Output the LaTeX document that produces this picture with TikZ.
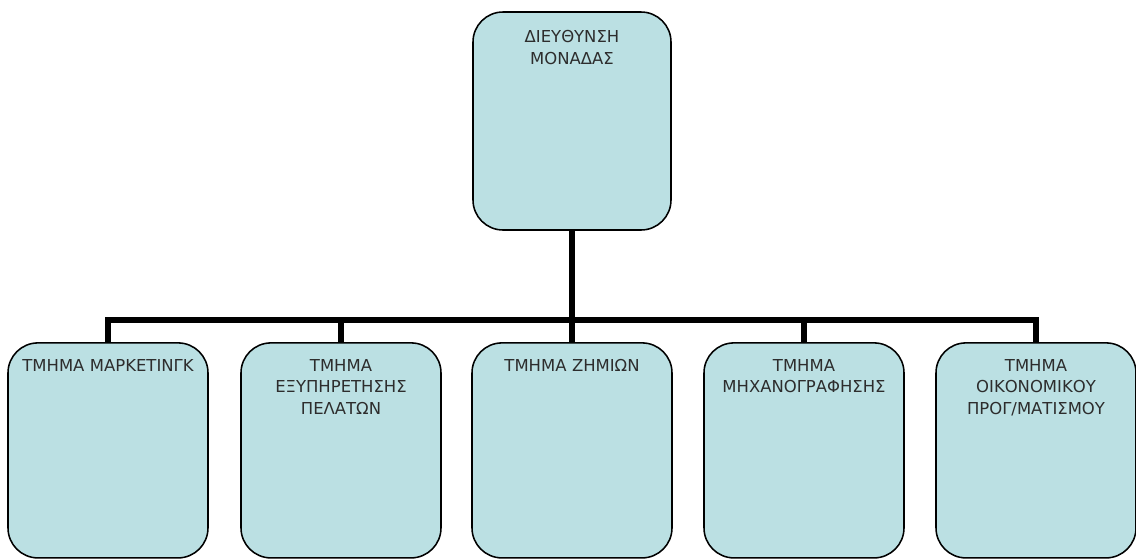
\documentclass[tikz,border=0pt]{standalone}
\usepackage{fontspec}
\setmainfont{DejaVu Sans}
\usetikzlibrary{positioning}
\definecolor{UnitFill}{RGB}{187,224,227}
\definecolor{UnitText}{RGB}{45,45,45}

\begin{document}
\begin{tikzpicture}[
    unit/.style={draw=black, line width=1.1pt, fill=UnitFill, rounded corners=0.75cm, minimum width=5cm, minimum height=5.375cm},
    headunit/.style={unit, minimum width=4.95cm, minimum height=5.45cm},
    caption/.style={anchor=north, text width=4.8cm, align=center, inner sep=0pt, text=UnitText, font=\fontsize{11.7}{15.5}\selectfont},
    link/.style={line width=3.8pt, line join=miter}]
  \useasboundingbox (0,0) rectangle (28.4,-14);
  % head of the unit
  \node[headunit] (head) at (14.3,-3.025) {};
  \node[caption, below=0.48cm of head.north] (headcap) {ΔΙΕΥΘΥΝΣΗ\\ΜΟΝΑΔΑΣ};
  % departments
  \node[unit] (mkt) at (2.7,-11.26) {};
  \node[unit] (cust) at (8.525,-11.26) {};
  \node[unit] (claims) at (14.3,-11.26) {};
  \node[unit] (it) at (20.1,-11.26) {};
  \node[unit] (fin) at (25.9,-11.26) {};
  \node[caption, below=0.42cm of mkt.north] (mktcap) {ΤΜΗΜΑ ΜΑΡΚΕΤΙΝΓΚ};
  \node[caption, below=0.42cm of cust.north] (custcap) {ΤΜΗΜΑ\\ΕΞΥΠΗΡΕΤΗΣΗΣ\\ΠΕΛΑΤΩΝ};
  \node[caption, below=0.42cm of claims.north] (claimscap) {ΤΜΗΜΑ ΖΗΜΙΩΝ};
  \node[caption, below=0.42cm of it.north] (itcap) {ΤΜΗΜΑ\\ΜΗΧΑΝΟΓΡΑΦΗΣΗΣ};
  \node[caption, below=0.42cm of fin.north] (fincap) {ΤΜΗΜΑ\\ΟΙΚΟΝΟΜΙΚΟΥ\\ΠΡΟΓ/ΜΑΤΙΣΜΟΥ};
  % connectors
  \coordinate (bus) at (0,-8.0);
  \draw[link] (head.south) -- (head.south |- bus);
  \draw[link] (mkt.north) -- (mkt.north |- bus) -- (fin.north |- bus) -- (fin.north);
  \draw[link] (cust.north) -- (cust.north |- bus);
  \draw[link] (claims.north) -- (claims.north |- bus);
  \draw[link] (it.north) -- (it.north |- bus);
\end{tikzpicture}
\end{document}
